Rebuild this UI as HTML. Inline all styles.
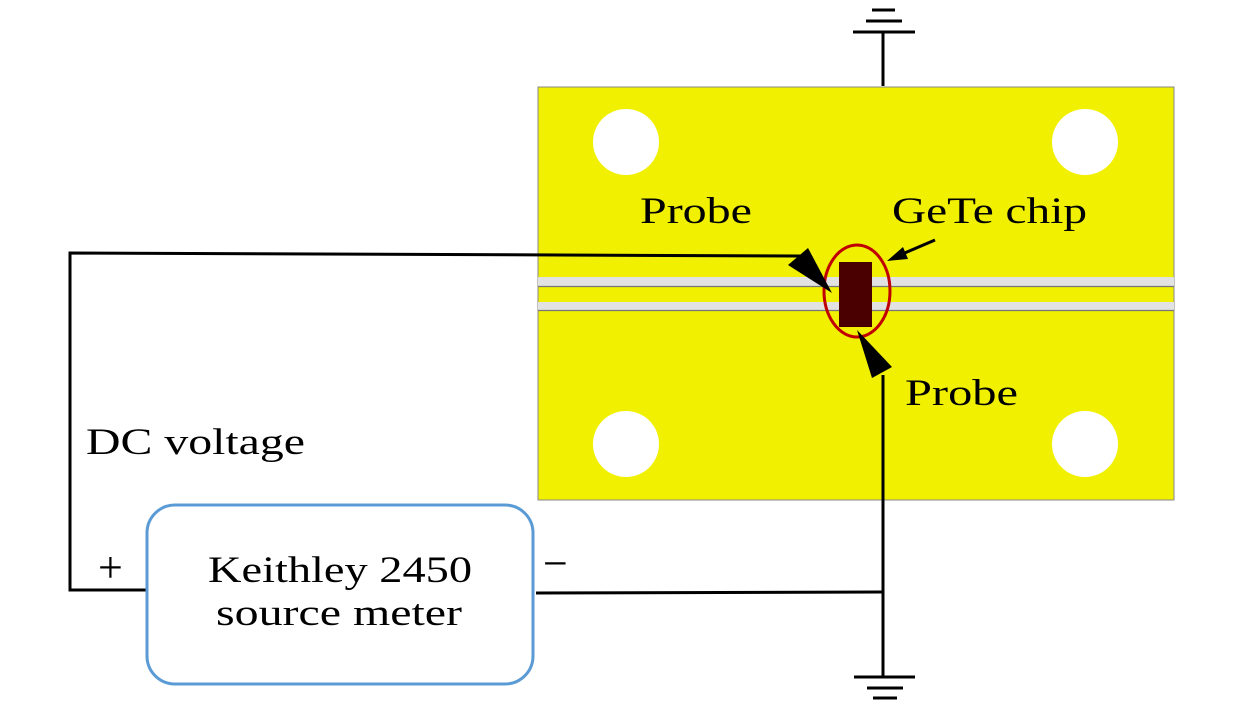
<!DOCTYPE html>
<html><head><style>body{margin:0;background:#fff}</style></head><body>
<svg width="1260" height="709" viewBox="0 0 1260 709" xmlns="http://www.w3.org/2000/svg" font-family="Liberation Serif, serif">
<rect x="538" y="87" width="636" height="413" fill="#f0f000" stroke="#888" stroke-width="1"/>
<circle cx="626" cy="142" r="33" fill="#fff"/>
<circle cx="1085" cy="142" r="33" fill="#fff"/>
<circle cx="626" cy="444" r="33" fill="#fff"/>
<circle cx="1085" cy="444" r="33" fill="#fff"/>
<rect x="538" y="277" width="636" height="9" fill="#e2e2e2"/>
<line x1="538" y1="286.5" x2="1174" y2="286.5" stroke="#777" stroke-width="1.2"/>
<rect x="538" y="302" width="636" height="8" fill="#e2e2e2"/>
<line x1="538" y1="310.5" x2="1174" y2="310.5" stroke="#777" stroke-width="1.2"/>
<rect x="839" y="262" width="33" height="65" fill="#4a0000"/>
<ellipse cx="857" cy="291" rx="33" ry="46" fill="none" stroke="#c00000" stroke-width="3"/>
<g stroke="#000" stroke-width="3" fill="none">
<line x1="883" y1="32" x2="883" y2="86"/>
<line x1="853" y1="32" x2="915" y2="32"/>
<line x1="866" y1="21" x2="902" y2="21"/>
<line x1="872" y1="10" x2="895" y2="10"/>
<polyline points="800,256 70,253 70,590 146,590"/>
<polyline points="536,593 883,592"/>
<line x1="883" y1="375" x2="883" y2="677"/>
<line x1="854" y1="677" x2="915" y2="677"/>
<line x1="867" y1="688" x2="903" y2="688"/>
<line x1="873" y1="698" x2="897" y2="698"/>
<line x1="935" y1="240" x2="900" y2="255"/>
</g>
<polygon points="788,265 808,248 832,293" fill="#000"/>
<polygon points="857,330 872,378 892,367" fill="#000"/>
<polygon points="887,261 903,247 908,259" fill="#000"/>
<rect x="147" y="505" width="386" height="179" rx="28" fill="#fff" stroke="#5b9bd5" stroke-width="3"/>
<g font-size="37" fill="#000">
<text x="640" y="223" textLength="112" lengthAdjust="spacingAndGlyphs">Probe</text>
<text x="892" y="223" textLength="195" lengthAdjust="spacingAndGlyphs">GeTe chip</text>
<text x="905" y="405" textLength="113" lengthAdjust="spacingAndGlyphs">Probe</text>
<text x="86" y="454" textLength="219" lengthAdjust="spacingAndGlyphs">DC voltage</text>
<text x="208" y="582" textLength="264" lengthAdjust="spacingAndGlyphs">Keithley 2450</text>
<text x="216" y="625" textLength="246" lengthAdjust="spacingAndGlyphs">source meter</text>
<text x="98" y="582" font-size="44">+</text>
<text x="543" y="578" font-size="44">−</text>
</g>
</svg>
</body></html>
